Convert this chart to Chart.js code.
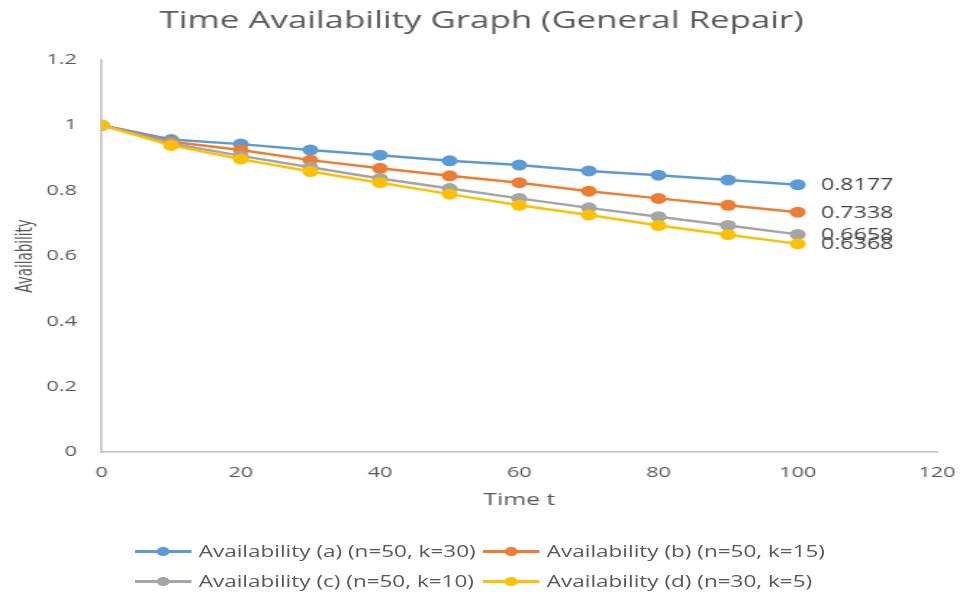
<!DOCTYPE html>
<html lang="en">
<head>
    <meta charset="UTF-8">
    <title>Time Availability Graph (General Repair)</title>
    <script src="https://cdn.jsdelivr.net/npm/chart.js"></script>
    <style>
        html, body { margin: 0; padding: 0; background: #fff; }
        /* the source picture is stretched sideways, so the chart is drawn narrow and scaled */
        #wrap {
            position: relative;
            width: 675px;
            height: 592px;
            transform: scaleX(1.4504);
            transform-origin: 0 0;
        }
        #legend {
            position: absolute;
            left: 93px;
            top: 540px;
            display: grid;
            grid-template-columns: 240px auto;
            row-gap: 8px;
            font: 15.5px "Open Sans", sans-serif;
            color: #595959;
        }
        .item { display: flex; align-items: center; height: 22px; white-space: nowrap; }
        .swatch { position: relative; width: 39px; height: 12px; margin-right: 5px; }
        .swatch .ln { position: absolute; left: 0; right: 0; top: 4.5px; height: 3px; }
        .swatch .dot { position: absolute; left: 15px; top: 1.5px; width: 9px; height: 9px; border-radius: 50%; }
    </style>
</head>
<body>
    <div id="wrap">
        <canvas id="availChart" width="675" height="592"></canvas>
        <div id="legend"></div>
    </div>

    <script>
        // time points and the four availability series
        const times = [0, 10, 20, 30, 40, 50, 60, 70, 80, 90, 100];
        const availA = [1, 0.956, 0.942, 0.924, 0.908, 0.891, 0.878, 0.860, 0.847, 0.832, 0.8177];
        const availB = [1, 0.949, 0.924, 0.893, 0.868, 0.845, 0.824, 0.798, 0.776, 0.755, 0.7338];
        const availC = [1, 0.944, 0.906, 0.871, 0.837, 0.806, 0.776, 0.747, 0.720, 0.693, 0.6658];
        const availD = [1, 0.938, 0.896, 0.858, 0.824, 0.789, 0.755, 0.725, 0.693, 0.665, 0.6368];
        const seriesNames = [
            'Availability (a) (n=50, k=30)',
            'Availability (b) (n=50, k=15)',
            'Availability (c) (n=50, k=10)',
            'Availability (d) (n=30, k=5)'
        ];
        const colors = ['#5B9BD5', '#ED7D31', '#A5A5A5', '#FFC000'];
        const xTicks = [0, 20, 40, 60, 80, 100, 120];
        const yTicks = [0, 0.2, 0.4, 0.6, 0.8, 1, 1.2];

        const allSeries = [availA, availB, availC, availD];

        const datasets = allSeries.map((vals, i) => ({
            label: seriesNames[i],
            data: times.map((t, j) => ({ x: t, y: vals[j] })),
            borderColor: colors[i],
            backgroundColor: colors[i],
            pointBackgroundColor: colors[i],
            pointBorderColor: colors[i],
            borderWidth: 2.5,
            pointRadius: 5.5,
            pointBorderWidth: 0,
            tension: 0,
            order: allSeries.length - 1 - i   // later series on top, like the source
        }));

        // value label right of the last point of each line
        const endLabels = {
            id: 'endLabels',
            afterDatasetsDraw(chart) {
                const ctx = chart.ctx;
                ctx.save();
                ctx.font = '16px "Open Sans", sans-serif';
                ctx.fillStyle = '#404040';
                ctx.textAlign = 'left';
                ctx.textBaseline = 'middle';
                chart.data.datasets.forEach((ds, i) => {
                    const meta = chart.getDatasetMeta(i);
                    const last = meta.data[meta.data.length - 1];
                    const vals = allSeries[i];
                    ctx.fillText(vals[vals.length - 1].toFixed(4), last.x + 16, last.y + 1);
                });
                ctx.restore();
            }
        };

        const ctx = document.getElementById('availChart').getContext('2d');
        new Chart(ctx, {
            type: 'line',
            data: { datasets: datasets },
            plugins: [endLabels],
            options: {
                responsive: false,
                animation: false,
                layout: { padding: { left: 0, right: 11, top: 0, bottom: 80 } },
                plugins: {
                    legend: { display: false },
                    tooltip: { enabled: false },
                    title: {
                        display: true,
                        text: 'Time Availability Graph (General Repair)',
                        color: '#595959',
                        font: { family: '"Open Sans", sans-serif', size: 24, weight: 'normal' },
                        padding: { top: 7, bottom: 24 }
                    }
                },
                scales: {
                    x: {
                        type: 'linear',
                        min: xTicks[0],
                        max: xTicks[xTicks.length - 1],
                        afterBuildTicks: axis => { axis.ticks = xTicks.map(v => ({ value: v })); },
                        afterFit: axis => { axis.height = 60; axis.paddingRight = 29; },
                        grid: { display: false, drawTicks: false },
                        border: { display: true, color: '#BFBFBF', width: 1.5 },
                        ticks: {
                            color: '#595959',
                            padding: 12,
                            font: { family: '"Open Sans", sans-serif', size: 15 }
                        },
                        title: {
                            display: true,
                            text: 'Time t',
                            color: '#595959',
                            font: { family: '"Open Sans", sans-serif', size: 17 },
                            padding: { top: 8, bottom: 2 }
                        }
                    },
                    y: {
                        min: yTicks[0],
                        max: yTicks[yTicks.length - 1],
                        afterBuildTicks: axis => { axis.ticks = yTicks.map(v => ({ value: v })); },
                        afterFit: axis => { axis.width = 70; },
                        grid: { display: false, drawTicks: false },
                        border: { display: true, color: '#BFBFBF', width: 1.5 },
                        ticks: {
                            color: '#595959',
                            padding: 17,
                            font: { family: '"Open Sans", sans-serif', size: 15 },
                            callback: v => String(Math.round(v * 10) / 10)
                        },
                        title: {
                            display: true,
                            text: 'Availability',
                            color: '#595959',
                            font: { family: '"Liberation Sans Narrow", "DejaVu Sans Condensed", sans-serif', size: 15 },
                            padding: { top: 9, bottom: 4 }
                        }
                    }
                }
            }
        });

        // legend below the plot: line with a dot, two per row
        const legend = document.getElementById('legend');
        seriesNames.forEach((name, i) => {
            const item = document.createElement('div');
            item.className = 'item';
            item.innerHTML =
                '<span class="swatch"><span class="ln" style="background:' + colors[i] + '"></span>' +
                '<span class="dot" style="background:' + colors[i] + '"></span></span>' +
                '<span>' + name + '</span>';
            legend.appendChild(item);
        });
    </script>
</body>
</html>
